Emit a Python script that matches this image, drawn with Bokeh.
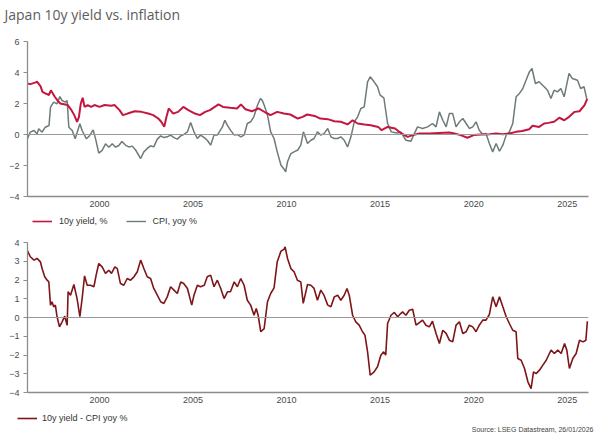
from bokeh.plotting import figure
from bokeh.models import Span, Legend, LegendItem, Label, FixedTicker, Range1d
from bokeh.layouts import column
from bokeh.embed import file_html
from bokeh.resources import INLINE

# ---------------- data ----------------
yield_year = [1996.05, 1996.3, 1996.55, 1996.67, 1996.85, 1996.95, 1997.1, 1997.3, 1997.4, 1997.6,
              1997.75, 1997.9, 1998.1, 1998.3, 1998.5, 1998.65, 1998.8, 1998.9, 1999.0, 1999.1,
              1999.2, 1999.37, 1999.55, 1999.73, 2000.0, 2000.27, 2000.63, 2000.8, 2001.07, 2001.25,
              2001.5, 2001.88, 2002.24, 2002.6, 2002.87, 2003.14, 2003.3, 2003.46, 2003.58, 2003.7,
              2003.94, 2004.2, 2004.48, 2004.75, 2005.1, 2005.37, 2005.65, 2005.9, 2006.36, 2006.6,
              2006.99, 2007.35, 2007.56, 2007.8, 2008.15, 2008.5, 2008.87, 2009.14, 2009.5, 2009.86,
              2010.2, 2010.6, 2010.86, 2011.1, 2011.5, 2011.8, 2012.2, 2012.55, 2012.9, 2013.26,
              2013.53, 2013.8, 2014.16, 2014.5, 2014.9, 2015.08, 2015.4, 2015.8, 2016.1, 2016.47,
              2016.74, 2017.1, 2017.63, 2018.16, 2018.7, 2018.97, 2019.3, 2019.67, 2020.0, 2020.4,
              2020.85, 2021.2, 2021.55, 2021.9, 2022.27, 2022.6, 2022.97, 2023.15, 2023.5, 2023.77,
              2024.0, 2024.3, 2024.58, 2024.85, 2025.1, 2025.4, 2025.66, 2025.93, 2026.07]
yield_val = [3.3, 3.25, 3.35, 3.4, 3.1, 2.75, 2.65, 2.55, 2.85, 2.45,
             2.2, 2.0, 1.95, 1.9, 1.57, 1.25, 0.82, 1.14, 2.0, 2.37,
             1.78, 1.9, 1.78, 1.9, 1.78, 1.9, 1.85, 1.9, 1.57, 1.25,
             1.35, 1.5, 1.46, 1.35, 1.25, 1.03, 0.82, 0.5, 1.14, 1.68,
             1.35, 1.46, 1.78, 1.57, 1.35, 1.25, 1.46, 1.57, 1.94, 1.78,
             1.72, 1.68, 1.94, 1.63, 1.5, 1.68, 1.42, 1.25, 1.46, 1.35,
             1.29, 1.03, 1.14, 1.29, 1.2, 1.03, 0.99, 0.86, 0.82, 0.65,
             0.92, 0.71, 0.65, 0.6, 0.49, 0.28, 0.49, 0.39, 0.1, -0.15,
             -0.04, 0.06, 0.06, 0.1, 0.13, 0.06, -0.04, -0.21, -0.04, 0.0,
             0.02, 0.06, 0.02, 0.06, 0.17, 0.22, 0.34, 0.56, 0.49, 0.71,
             0.75, 0.82, 1.08, 0.92, 1.14, 1.46, 1.5, 1.9, 2.3]

cpi_year = [1996.1, 1996.3, 1996.5, 1996.66, 1996.75, 1996.93, 1997.1, 1997.3, 1997.38, 1997.55,
            1997.73, 1997.88, 1998.0, 1998.18, 1998.27, 1998.36, 1998.54, 1998.7, 1998.95, 1999.07,
            1999.3, 1999.48, 1999.66, 1999.79, 1999.96, 2000.14, 2000.32, 2000.5, 2000.68, 2000.86,
            2001.03, 2001.2, 2001.4, 2001.57, 2001.75, 2001.93, 2002.2, 2002.37, 2002.55, 2002.73,
            2002.9, 2003.09, 2003.27, 2003.44, 2003.62, 2003.8, 2003.98, 2004.16, 2004.34, 2004.5,
            2004.7, 2004.87, 2005.05, 2005.23, 2005.4, 2005.6, 2005.76, 2005.94, 2006.12, 2006.3,
            2006.57, 2006.7, 2006.83, 2007.0, 2007.2, 2007.37, 2007.55, 2007.73, 2007.9, 2008.08,
            2008.25, 2008.45, 2008.6, 2008.7, 2008.8, 2008.98, 2009.15, 2009.33, 2009.5, 2009.7,
            2009.87, 2009.95, 2010.05, 2010.23, 2010.4, 2010.6, 2010.76, 2010.9, 2011.12, 2011.3,
            2011.47, 2011.65, 2011.83, 2012.0, 2012.2, 2012.37, 2012.55, 2012.73, 2012.9, 2013.08,
            2013.26, 2013.44, 2013.62, 2013.8, 2013.97, 2014.15, 2014.33, 2014.47, 2014.68, 2014.86,
            2015.0, 2015.2, 2015.4, 2015.6, 2015.76, 2015.94, 2016.1, 2016.38, 2016.65, 2016.83,
            2017.0, 2017.27, 2017.54, 2017.8, 2017.99, 2018.17, 2018.35, 2018.53, 2018.7, 2018.88,
            2019.06, 2019.24, 2019.42, 2019.6, 2019.77, 2019.95, 2020.13, 2020.3, 2020.49, 2020.66,
            2020.84, 2021.02, 2021.2, 2021.38, 2021.56, 2021.74, 2021.91, 2022.09, 2022.27, 2022.45,
            2022.63, 2022.8, 2022.98, 2023.12, 2023.3, 2023.5, 2023.77, 2023.95, 2024.13, 2024.3,
            2024.48, 2024.66, 2024.84, 2025.1, 2025.28, 2025.55, 2025.72, 2025.9, 2026.05]
cpi_val = [-0.39, 0.15, 0.26, 0.04, 0.37, 0.15, 0.47, 0.58, 1.76, 2.09,
           1.98, 2.45, 2.19, 2.09, 2.19, 0.47, 0.26, -0.28, 0.69, 0.26,
           -0.28, -0.06, 0.3, -0.28, -1.2, -1.03, -0.6, -0.82, -0.6, -0.82,
           -0.71, -0.45, -0.7, -0.8, -0.75, -1.0, -1.55, -1.12, -0.9, -0.73,
           -0.8, -0.3, -0.09, -0.2, -0.15, -0.04, -0.2, -0.3, -0.09, 0.0,
           0.17, 0.78, 0.17, -0.26, -0.04, -0.2, -0.37, -0.69, -0.04, -0.04,
           0.49, 0.92, 0.6, 0.28, -0.04, 0.0, -0.15, -0.04, 0.71, 0.82,
           1.14, 1.9, 2.32, 2.2, 1.9, 1.25, 0.17, -0.26, -1.12, -1.98,
           -2.24, -2.41, -1.76, -1.23, -1.12, -1.0, -0.69, 0.17, -0.58, -0.37,
           -0.26, 0.17, -0.04, 0.06, 0.39, -0.15, -0.26, -0.26, -0.15, -0.37,
           -0.8, -0.15, 0.82, 1.14, 1.68, 1.78, 3.4, 3.72, 3.4, 3.08,
           2.54, 2.37, 0.71, 0.17, 0.13, 0.1, 0.17, -0.37, -0.43, 0.06,
           0.49, 0.39, 0.49, 0.71, 0.49, 1.46, 0.92, 0.49, 1.35, 1.35,
           0.49, 0.82, 1.03, 0.71, 0.39, 0.49, 0.82, 0.28, 0.0, 0.06,
           -0.58, -1.12, -0.58, -1.08, -0.69, -0.04, 0.17, 0.71, 2.43, 2.65,
           2.97, 3.5, 4.04, 4.26, 3.29, 3.4, 3.08, 2.86, 2.32, 2.86,
           2.75, 2.97, 2.43, 3.94, 3.61, 3.5, 2.97, 3.08, 2.3]

diff_year = [1996.13, 1996.3, 1996.5, 1996.66, 1996.84, 1996.93, 1997.07, 1997.2, 1997.29, 1997.38,
             1997.46, 1997.55, 1997.64, 1997.73, 1997.86, 1998.0, 1998.14, 1998.27, 1998.32, 1998.45,
             1998.63, 1998.8, 1998.95, 1999.07, 1999.2, 1999.34, 1999.52, 1999.7, 1999.82, 1999.96,
             2000.14, 2000.32, 2000.5, 2000.64, 2000.82, 2000.95, 2001.12, 2001.3, 2001.48, 2001.66,
             2001.84, 2002.02, 2002.2, 2002.37, 2002.55, 2002.73, 2002.9, 2003.09, 2003.27, 2003.44,
             2003.62, 2003.8, 2003.98, 2004.16, 2004.34, 2004.5, 2004.7, 2004.93, 2005.05, 2005.23,
             2005.4, 2005.6, 2005.76, 2005.94, 2006.12, 2006.3, 2006.48, 2006.66, 2006.84, 2007.0,
             2007.2, 2007.37, 2007.55, 2007.73, 2007.9, 2008.08, 2008.26, 2008.38, 2008.48, 2008.62,
             2008.8, 2008.98, 2009.15, 2009.33, 2009.5, 2009.7, 2009.87, 2009.92, 2010.05, 2010.23,
             2010.4, 2010.58, 2010.76, 2010.89, 2011.12, 2011.3, 2011.47, 2011.65, 2011.83, 2012.0,
             2012.2, 2012.37, 2012.55, 2012.73, 2012.9, 2013.08, 2013.23, 2013.35, 2013.53, 2013.7,
             2013.88, 2014.06, 2014.19, 2014.33, 2014.47, 2014.68, 2014.86, 2015.04, 2015.19, 2015.3,
             2015.4, 2015.58, 2015.76, 2015.94, 2016.1, 2016.2, 2016.38, 2016.56, 2016.74, 2016.92,
             2017.1, 2017.27, 2017.45, 2017.63, 2017.8, 2017.99, 2018.17, 2018.35, 2018.53, 2018.7,
             2018.88, 2019.06, 2019.24, 2019.42, 2019.6, 2019.77, 2019.95, 2020.13, 2020.3, 2020.49,
             2020.66, 2020.84, 2021.02, 2021.2, 2021.38, 2021.56, 2021.74, 2021.91, 2022.09, 2022.27,
             2022.36, 2022.54, 2022.72, 2022.9, 2023.07, 2023.2, 2023.34, 2023.52, 2023.7, 2023.88,
             2024.05, 2024.14, 2024.32, 2024.5, 2024.68, 2024.86, 2024.98, 2025.12, 2025.3, 2025.48,
             2025.66, 2025.84, 2026.0, 2026.08]
diff_val = [3.59, 3.24, 3.06, 3.15, 2.97, 2.61, 2.17, 1.99, 1.9, 0.66,
            0.84, 0.57, 0.66, 0.04, -0.5, -0.23, 0.07, -0.41, 1.37, 1.19,
            1.76, 1.01, 0.04, 1.01, 2.22, 1.72, 1.72, 1.64, 2.26, 2.88,
            2.7, 2.35, 2.52, 2.35, 2.7, 2.61, 1.81, 1.72, 2.08, 1.99,
            2.17, 2.44, 3.06, 2.61, 2.17, 2.08, 1.55, 1.19, 0.84, 0.75,
            1.1, 1.64, 1.46, 1.28, 1.9, 1.81, 1.55, 0.66, 1.19, 1.72,
            1.64, 1.72, 2.17, 2.26, 1.64, 1.99, 1.55, 1.01, 1.37, 1.37,
            1.9, 1.64, 2.08, 1.72, 0.92, 0.66, 0.12, 0.48, 0.12, -0.76,
            -0.59, 0.84, 1.28, 1.58, 2.97, 3.54, 3.64, 3.77, 3.15, 2.61,
            2.44, 1.99, 1.9, 0.75, 1.76, 1.72, 1.55, 0.92, 1.46, 1.19,
            0.66, 0.57, 1.1, 1.19, 0.92, 1.19, 1.55, 1.19, 0.12, -0.23,
            -0.41, -0.76, -0.94, -1.83, -3.08, -2.9, -2.63, -2.01, -1.83, -2.01,
            -0.32, 0.12, 0.27, 0.04, 0.21, 0.3, 0.12, 0.39, 0.44, -0.41,
            -0.27, -0.14, -0.41, -0.5, -0.2, -0.85, -1.39, -0.68, -0.85, -1.21,
            -1.3, -0.41, -0.23, -0.85, -0.76, -0.41, -0.5, -0.76, -0.41, -0.14,
            -0.14, 0.16, 1.1, 0.57, 1.1, 0.57, 0.04, -0.32, -0.68, -0.76,
            -2.19, -2.28, -2.72, -3.43, -3.79, -2.9, -2.99, -2.81, -2.54, -2.28,
            -1.92, -1.74, -1.92, -1.74, -1.92, -1.39, -1.74, -2.72, -2.19, -1.92,
            -1.21, -1.3, -1.21, -0.2]

x_ticks = [2000, 2005, 2010, 2015, 2020, 2025]
top_y_ticks = [-4, -2, 0, 2, 4, 6]
bottom_y_ticks = [-4, -3, -2, -1, 0, 1, 2, 3, 4]

TITLE = "Japan 10y yield vs. inflation"
SOURCE = "Source: LSEG Datastream, 26/01/2026"

YIELD_COLOR = "#C4163F"
CPI_COLOR = "#6E7A7A"
DIFF_COLOR = "#7E1518"
AXIS_COLOR = "#8C8C8C"
TICK_FONT = "Liberation Sans"

W = 600


def style(p, yticks):
    p.xaxis.ticker = FixedTicker(ticks=x_ticks)
    p.yaxis.ticker = FixedTicker(ticks=yticks)
    for ax in (p.xaxis, p.yaxis):
        ax.axis_line_color = AXIS_COLOR
        ax.axis_line_width = 1.3
        ax.major_tick_line_color = AXIS_COLOR
        ax.minor_tick_line_color = None
        ax.major_label_text_font = TICK_FONT
        ax.major_label_text_font_size = "9px"
        ax.major_label_text_color = "#4a4a4a"
    p.xaxis.major_tick_out = 0
    p.xaxis.major_tick_in = 0
    p.xaxis.major_label_standoff = 4
    p.yaxis.major_tick_out = 4
    p.yaxis.major_tick_in = 0
    p.yaxis.major_label_standoff = 4
    p.xgrid.visible = False
    p.ygrid.visible = False
    p.outline_line_color = None
    p.add_layout(Span(location=0, dimension="width", line_color="#9a9a9a", line_width=1.2))


def strip(height):
    """A bare figure with no axes whose frame fills the whole canvas (title / legend / footer)."""
    s = figure(width=W, height=height, x_range=Range1d(0, 1), y_range=Range1d(0, 1),
               x_axis_type=None, y_axis_type=None, output_backend="svg",
               toolbar_location=None, min_border=0, frame_align=False)
    s.outline_line_color = None
    s.xgrid.visible = False
    s.ygrid.visible = False
    return s


def make_legend(items, location, spacing=0, standoff=7):
    return Legend(items=items, location=location, orientation="horizontal", padding=0,
                  margin=0, spacing=spacing, glyph_width=20, glyph_height=10,
                  label_height=10, label_standoff=standoff, label_text_font=TICK_FONT,
                  label_text_font_size="9px", label_text_color="#333333",
                  background_fill_alpha=0, border_line_alpha=0)


x_range = Range1d(1996.15, 2026.14)

# ---------------- title strip ----------------
t0 = strip(30)
t0.add_layout(Label(x=4, y=16, x_units="screen", y_units="screen", text=TITLE,
                    text_align="left", text_baseline="middle", text_font="Open Sans",
                    text_font_size="14px", text_color="#5c5c5c"))

# ---------------- top chart ----------------
p1 = figure(width=W, height=182, x_range=x_range, y_range=Range1d(-4, 6),
            output_backend="svg", toolbar_location=None,
            min_border_left=27, min_border_right=12, min_border_top=11, min_border_bottom=16)
style(p1, top_y_ticks)

p1.line(cpi_year, cpi_val, line_color=CPI_COLOR, line_width=1.5)
p1.line(yield_year, yield_val, line_color=YIELD_COLOR, line_width=2.0)

# legend strip for the top chart (its lines hold the series but lie outside the strip's ranges)
l1 = strip(20)
k_yield = l1.line(yield_year, yield_val, line_color=YIELD_COLOR, line_width=1.6)
k_cpi = l1.line(cpi_year, cpi_val, line_color=CPI_COLOR, line_width=1.4)
l1.add_layout(make_legend([LegendItem(label="10y yield, %", renderers=[k_yield]),
                           LegendItem(label="CPI, yoy %", renderers=[k_cpi])],
                          (32, 6), spacing=18))

# ---------------- bottom chart ----------------
p2 = figure(width=W, height=176, x_range=x_range, y_range=Range1d(-4, 4),
            output_backend="svg", toolbar_location=None,
            min_border_left=27, min_border_right=12, min_border_top=10, min_border_bottom=16)
style(p2, bottom_y_ticks)
p2.line(diff_year, diff_val, line_color=DIFF_COLOR, line_width=1.6)

# legend + source strip for the bottom chart
l2 = strip(33)
k_diff = l2.line(diff_year, diff_val, line_color=DIFF_COLOR, line_width=1.6)
l2.add_layout(make_legend([LegendItem(label="10y yield - CPI yoy %", renderers=[k_diff])],
                          (17, 18), standoff=5))
l2.add_layout(Label(x=593, y=12, x_units="screen", y_units="screen", text=SOURCE,
                    text_align="right", text_baseline="middle", text_font=TICK_FONT,
                    text_font_size="7px", text_color="#444444"))

layout = column(t0, p1, l1, p2, l2, spacing=0)
open("out.html", "w").write(file_html(layout, INLINE))
